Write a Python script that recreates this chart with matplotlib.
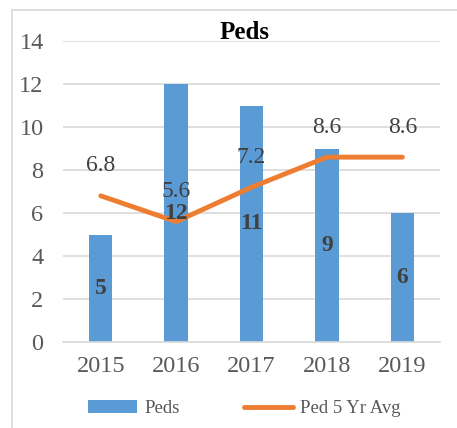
import matplotlib
matplotlib.use('Agg')
import matplotlib.pyplot as plt
from matplotlib.lines import Line2D

# Chart data
years = ['2015', '2016', '2017', '2018', '2019']
peds = [5, 12, 11, 9, 6]
avg_5yr = [6.8, 5.6, 7.2, 8.6, 8.6]
y_ticks = [0, 2, 4, 6, 8, 10, 12, 14]

plt.rcParams['font.family'] = ['Liberation Serif', 'DejaVu Serif']

bar_color = '#5B9BD5'
line_color = '#ED7D31'
text_gray = '#595959'
label_gray = '#404040'
grid_gray = '#D9D9D9'

fig = plt.figure(figsize=(4.57, 4.28), dpi=100)
ax = fig.add_axes([0.138, 0.201, 0.825, 0.703])

x = range(len(years))
bars = ax.bar(x, peds, width=0.31, color=bar_color, zorder=2)
line, = ax.plot(x, avg_5yr, color=line_color, linewidth=3.5,
                solid_capstyle='round', zorder=3)

# value labels inside the bars
for xi, v in zip(x, peds):
    ax.text(xi, v / 2, str(v), ha='center', va='center', fontsize=17,
            fontweight='bold', color=label_gray, zorder=4)

# labels above the average line
for xi, v in zip(x, avg_5yr):
    ax.annotate(f'{v:.1f}', (xi, v), xytext=(0, 21.5), textcoords='offset points',
                ha='center', va='center', fontsize=17, color=label_gray, zorder=4)

ax.set_xlim(-0.5, len(years) - 0.5)
ax.set_ylim(0, 14)
ax.set_yticks(y_ticks)
ax.set_xticks(list(x))
ax.set_xticklabels(years)
ax.tick_params(axis='both', length=0, labelsize=17.5, colors=text_gray)
ax.tick_params(axis='y', pad=14)
ax.tick_params(axis='x', pad=10)
ax.grid(axis='y', color=grid_gray, linewidth=1.2, zorder=0)
for side in ['top', 'right', 'left']:
    ax.spines[side].set_visible(False)
ax.spines['bottom'].set_color(grid_gray)
ax.spines['bottom'].set_linewidth(1.2)

fig.text(0.536, 0.925, 'Peds', ha='center', va='center', fontsize=18,
         fontweight='bold', color='black')

fig.legend([bars, line], ['Peds', 'Ped 5 Yr Avg'], loc='center',
           bbox_to_anchor=(0.535, 0.045), ncol=2, frameon=False, fontsize=13.5,
           handlelength=2.6, handletextpad=0.4, columnspacing=3.4,
           labelcolor=text_gray)

# chart area border (left and top edges visible)
fig.add_artist(Line2D([12 / 457, 12 / 457], [0, 1 - 10 / 428],
                      transform=fig.transFigure, color=grid_gray, linewidth=1.2))
fig.add_artist(Line2D([12 / 457, 1], [1 - 10 / 428, 1 - 10 / 428],
                      transform=fig.transFigure, color=grid_gray, linewidth=1.2))

fig.savefig('out.png', dpi=100)
